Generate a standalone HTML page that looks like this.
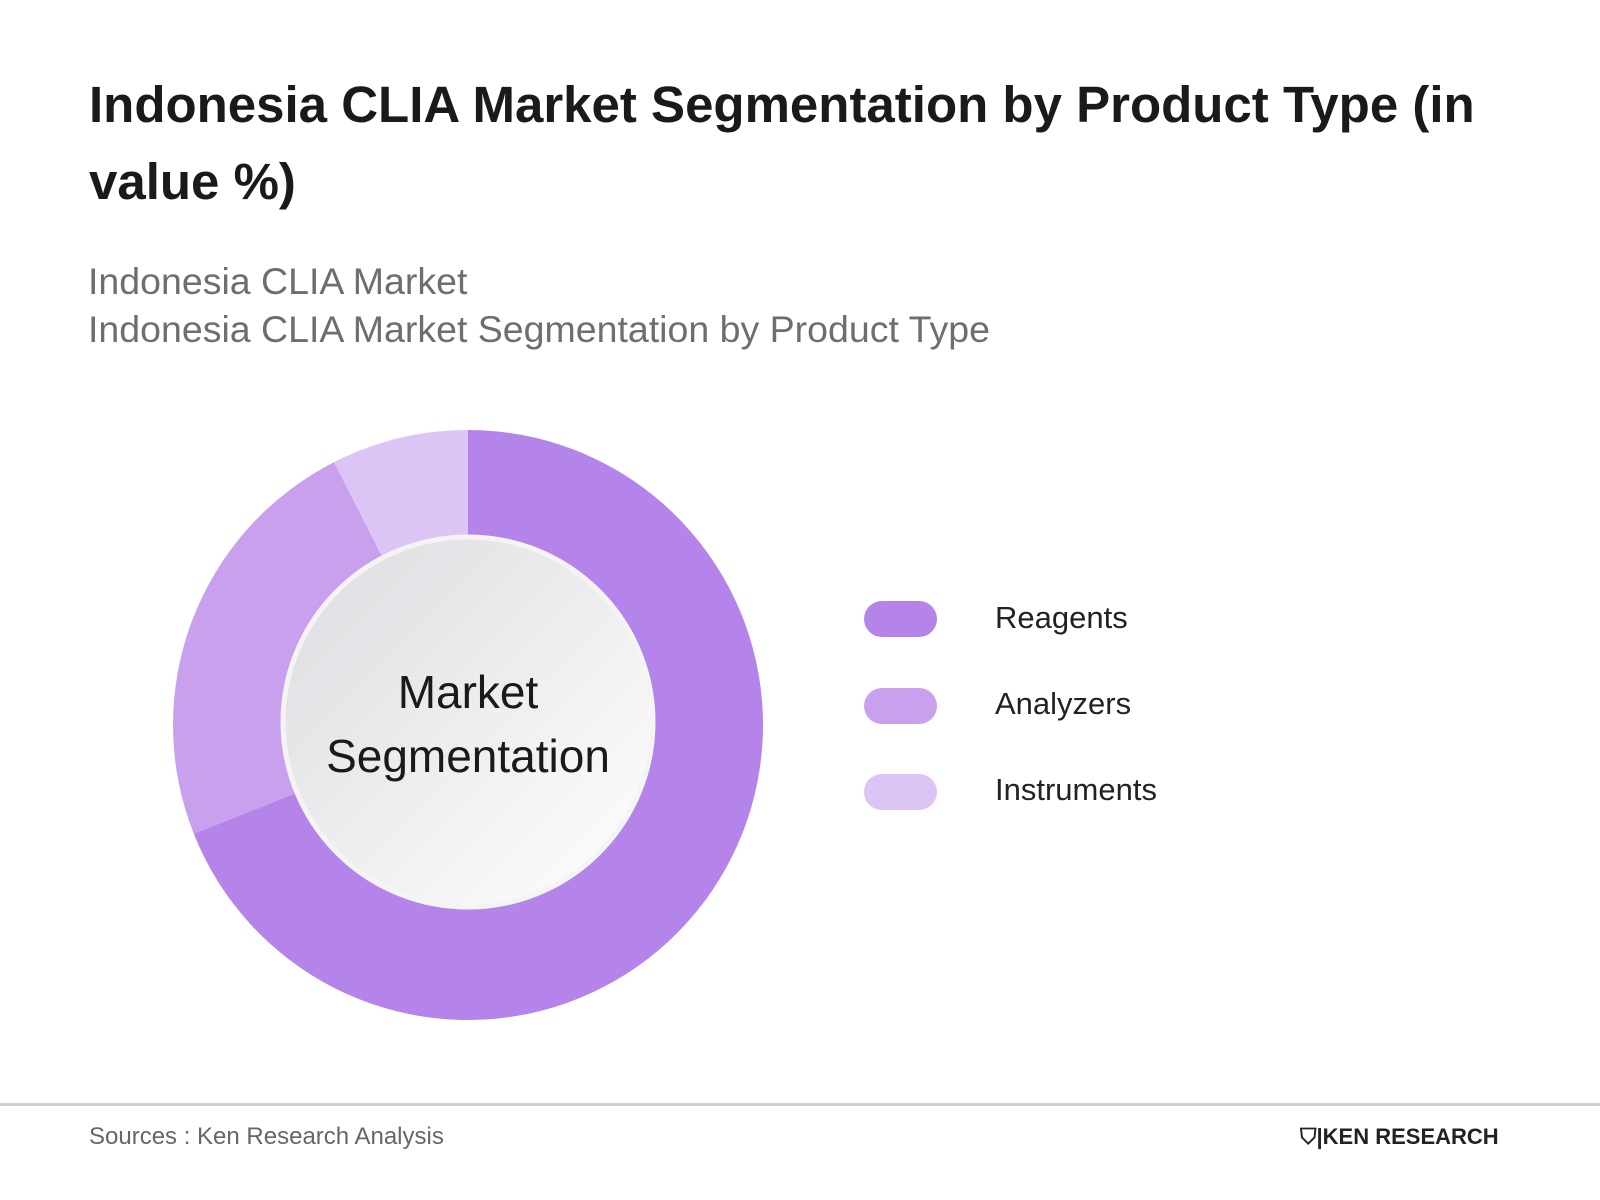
<!DOCTYPE html>
<html><head><meta charset="utf-8"><style>
body{margin:0;width:1600px;height:1200px;background:#fff;font-family:"Liberation Sans",sans-serif;position:relative;overflow:hidden}
.t{position:absolute;left:89px;top:66px;width:1500px;font-size:51px;font-weight:bold;color:#1a1a1a;line-height:77px}
.s{position:absolute;left:88px;top:257px;font-size:37.5px;color:#6e6e6e;line-height:48px}
.lg{position:absolute;left:864px;width:73px;height:36px;border-radius:18px}
.ll{position:absolute;left:995px;font-size:31px;color:#222}
.foot{position:absolute;left:0;top:1103px;width:1600px;height:3px;background:#cfcfcf}
.src{position:absolute;left:89px;top:1123px;font-size:24px;color:#666}
.logo{position:absolute;left:1300px;top:1124px;font-size:22px;font-weight:bold;color:#222;letter-spacing:0px}
</style></head><body>
<div class="t">Indonesia CLIA Market Segmentation by Product Type (in<br>value %)</div>
<div class="s">Indonesia CLIA Market<br>Indonesia CLIA Market Segmentation by Product Type</div>
<svg id="ch" width="1600" height="1200" style="position:absolute;left:0;top:0">
<defs><linearGradient id="g" x1="0" y1="0" x2="1" y2="1"><stop offset="0" stop-color="#dcdce0"/><stop offset="1" stop-color="#ffffff"/></linearGradient></defs>
</svg>
<div class="lg" style="top:601px;background:#b584ea"></div>
<div class="ll" style="top:600px">Reagents</div>
<div class="lg" style="top:688px;background:#c9a0ee"></div>
<div class="ll" style="top:686px">Analyzers</div>
<div class="lg" style="top:774px;background:#dcc4f5"></div>
<div class="ll" style="top:772px">Instruments</div>
<div class="foot"></div>
<div class="src">Sources : Ken Research Analysis</div>
<div class="logo">⛉|KEN RESEARCH</div>
<script>
const categories=["Reagents","Analyzers","Instruments"];
const values=[69,23.5,7.5];
const colors=["#b584ea","#c9a0ee","#dcc4f5"];
const svg=document.getElementById('ch');const NS="http://www.w3.org/2000/svg";
const cx=468,cy=725,R=295;
const total=values.reduce((a,b)=>a+b,0);
function pt(a,r){return [cx+r*Math.sin(a),cy-r*Math.cos(a)];}
let a0=0;
values.forEach((v,i)=>{
 const a1=a0+v/total*2*Math.PI;
 const p0=pt(a0,R),p1=pt(a1,R);
 const p=document.createElementNS(NS,'path');
 p.setAttribute('d',`M${cx},${cy}L${p0[0]},${p0[1]}A${R},${R} 0 ${a1-a0>Math.PI?1:0} 1 ${p1[0]},${p1[1]}Z`);
 p.setAttribute('fill',colors[i]);
 
 
 svg.appendChild(p);a0=a1;
});
const c=document.createElementNS(NS,'circle');
c.setAttribute('cx',cx);c.setAttribute('cy',cy-3);c.setAttribute('r',185);
c.setAttribute('fill','url(#g)');c.setAttribute('stroke','#f4f4f4');c.setAttribute('stroke-width','5');


svg.appendChild(c);
[["Market",708],["Segmentation",772]].forEach(([t,y])=>{
 const e=document.createElementNS(NS,'text');
 e.setAttribute('x',cx);e.setAttribute('y',y);e.setAttribute('text-anchor','middle');
 e.setAttribute('font-size','46');e.setAttribute('fill','#1a1a1a');e.setAttribute('font-family','Liberation Sans, sans-serif');
 e.textContent=t;
 
 
 svg.appendChild(e);
});
</script>
</body></html>
